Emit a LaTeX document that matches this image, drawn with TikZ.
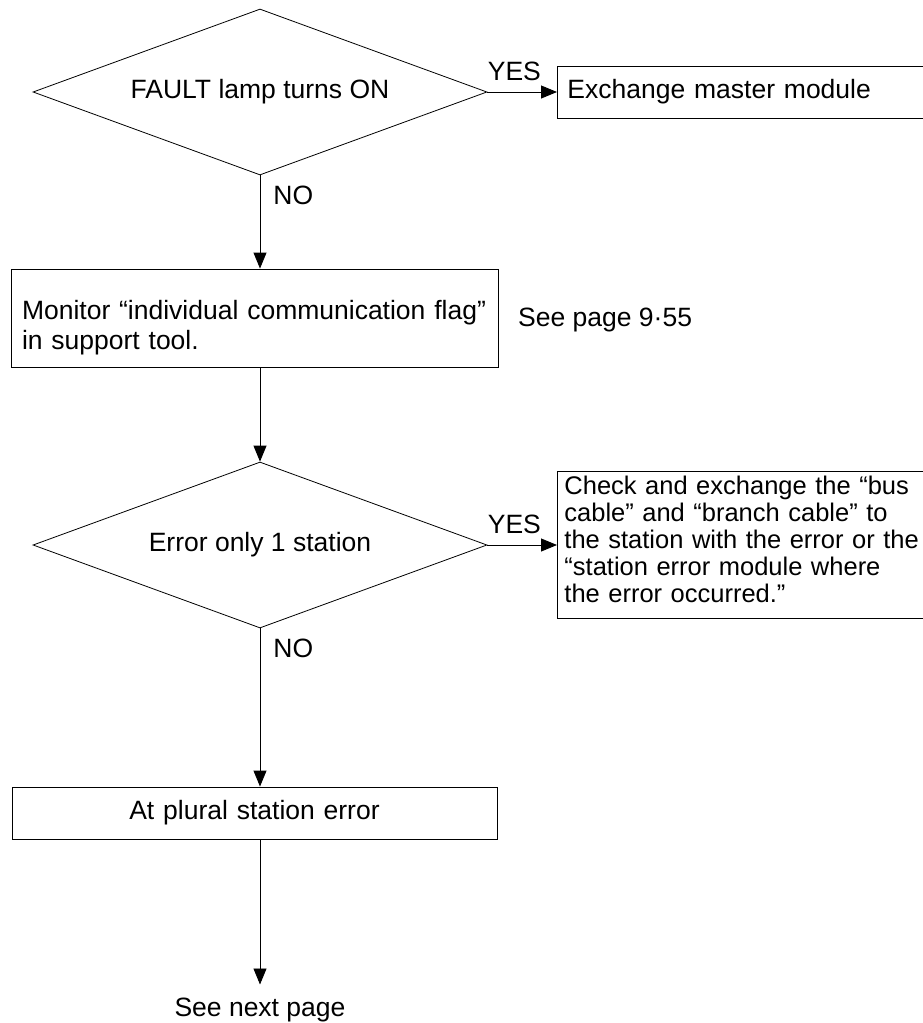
\documentclass[tikz,border=0pt]{standalone}
\usepackage{fontspec}
\setmainfont{Liberation Sans}
\usetikzlibrary{arrows.meta,shapes.geometric}

\begin{document}
\begin{tikzpicture}[x=1pt,y=-1pt,>={Triangle[length=16pt,width=13pt]},
  every node/.style={font=\fontsize{26.5}{26.5}\selectfont},
  decision/.style={draw,diamond,aspect=2.7,minimum width=454pt,minimum height=166pt,inner sep=0pt,line width=0.8pt},
  box/.style={draw,rectangle,line width=0.9pt,inner xsep=10pt,inner ysep=0pt,align=left},
  lbl/.style={inner sep=0pt}]
\useasboundingbox (0,0) rectangle (923,1023);
\node[decision] (fault) at (260,92) {FAULT lamp turns ON};
\node[box,anchor=west,text width=354pt,minimum height=52pt] (exch) at (557,92) {Exchange master module};
\node[box,text width=465pt,minimum height=98pt,inner xsep=11pt,font=\fontsize{26.5}{30}\selectfont] (monitor) at (254.5,318) {\rule{0pt}{39pt}Monitor “individual communication flag”\\in support tool.};
\node[lbl,anchor=base west] (seepg) at (518,326) {See page 9·55};
\node[decision] (onlyone) at (260,545) {Error only 1 station};
\node[box,anchor=west,text width=400pt,minimum height=147pt,inner xsep=7pt,font=\fontsize{25.5}{27}\selectfont] (check) at (557,545) {Check and exchange the “bus\\cable” and “branch cable” to\\the station with the error or the\\“station error module where\\the error occurred.”\rule[-12pt]{0pt}{12pt}};
\node[box,align=center,text width=465pt,minimum height=52pt] (plural) at (254.5,813) {At plural station error};
\node[lbl,anchor=base,outer ysep=13pt] (next) at (260,1016) {See next page};
% connectors
\draw[->,line width=0.9pt] (fault.east) -- (exch.west) node[lbl,pos=0,anchor=base west,yshift=12pt]{YES};
\draw[->,line width=0.9pt] (fault.south) -- (monitor.north -| fault) node[lbl,pos=0,anchor=north west,xshift=13pt,yshift=-10pt]{NO};
\draw[->,line width=0.9pt] (monitor.south -| onlyone) -- (onlyone.north);
\draw[->,line width=0.9pt] (onlyone.east) -- (check.west) node[lbl,pos=0,anchor=base west,yshift=12pt]{YES};
\draw[->,line width=0.9pt] (onlyone.south) -- (plural.north -| onlyone) node[lbl,pos=0,anchor=north west,xshift=13pt,yshift=-10pt]{NO};
\draw[->,line width=0.9pt] (plural.south -| next) -- (next.north);
\end{tikzpicture}
\end{document}
